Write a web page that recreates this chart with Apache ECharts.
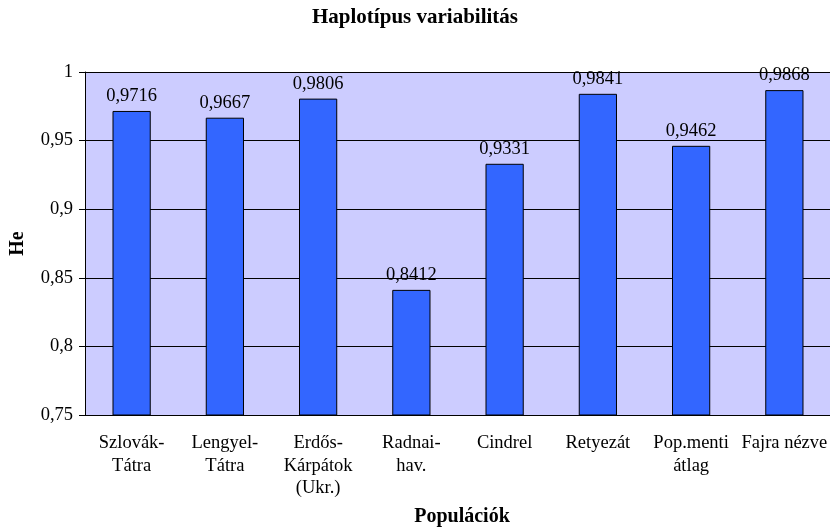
<!DOCTYPE html>
<html>
<head>
    <meta charset="utf-8">
    <script src="https://cdn.jsdelivr.net/npm/echarts@6/dist/echarts.min.js"></script>
</head>
<body style="margin: 0">
    <div id="container" style="height:532px;width:830px"></div>
    <script type="text/javascript">
        var categories = ['Szlovák-\nTátra', 'Lengyel-\nTátra', 'Erdős-\nKárpátok\n(Ukr.)', 'Radnai-\nhav.', 'Cindrel', 'Retyezát', 'Pop.menti\nátlag', 'Fajra nézve'];
        var heValues = [0.9716, 0.9667, 0.9806, 0.8412, 0.9331, 0.9841, 0.9462, 0.9868];
        var yMin = 0.75, yMax = 1, yStep = 0.05;

        var serif = '"Liberation Serif", "Times New Roman", serif';
        function comma(v, d) {
            return (d ? v.toFixed(d) : String(+v.toFixed(2))).replace('.', ',');
        }

        var myChart = echarts.init(document.getElementById('container'));
        var option = {
            backgroundColor: '#fff',
            animation: false,
            title: {
                text: 'Haplotípus variabilitás',
                left: 'center',
                top: 7,
                padding: [0, 0, 0, 10],
                textStyle: { fontFamily: serif, fontSize: 21, fontWeight: 'bold', color: '#000' }
            },
            grid: {
                left: 85, top: 72, bottom: 117, width: 746,
                outerBoundsMode: 'none',
                show: true, backgroundColor: '#ccccff', borderWidth: 0
            },
            xAxis: {
                type: 'category',
                data: categories,
                name: 'Populációk',
                nameLocation: 'middle',
                nameGap: 92,
                nameTextStyle: { fontFamily: serif, fontSize: 20, fontWeight: 'bold', color: '#000', padding: [0, 0, 0, 8] },
                axisLine: { lineStyle: { color: '#000' } },
                axisTick: { length: 5, lineStyle: { color: '#000' } },
                axisLabel: {
                    fontFamily: serif, fontSize: 18.5, color: '#000', margin: 17,
                    lineHeight: 22.5, interval: 0
                }
            },
            yAxis: {
                type: 'value',
                min: yMin, max: yMax, interval: yStep,
                name: 'He',
                nameLocation: 'middle',
                nameGap: 57,
                nameTextStyle: { fontFamily: serif, fontSize: 20, fontWeight: 'bold', color: '#000' },
                axisLine: { show: true, lineStyle: { color: '#000' } },
                axisTick: { show: true, length: 6, lineStyle: { color: '#000' } },
                splitLine: { lineStyle: { color: '#000' } },
                axisLabel: {
                    fontFamily: serif, fontSize: 18.5, color: '#000', margin: 12,
                    formatter: function (v) { return comma(v); }
                }
            },
            series: [{
                type: 'bar',
                data: heValues,
                barWidth: '41%',
                itemStyle: { color: '#3366ff', borderColor: '#000', borderWidth: 1 },
                label: {
                    show: true, position: 'top', distance: 5,
                    fontFamily: serif, fontSize: 18.5, color: '#000',
                    formatter: function (p) { return comma(p.value, 4); }
                }
            }]
        };
        myChart.setOption(option);
    </script>
</body>
</html>
